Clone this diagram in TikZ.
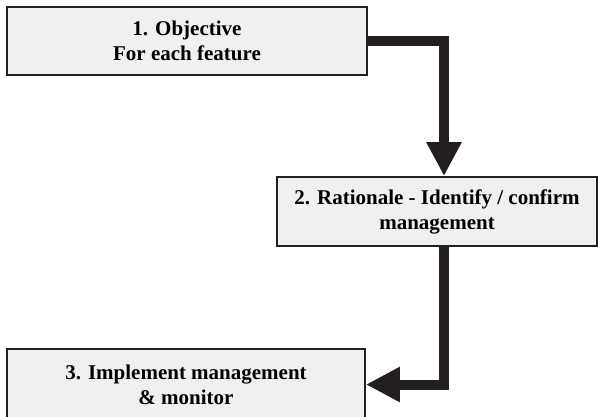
\documentclass[tikz,border=0pt]{standalone}
\usepackage{fontspec}
\setmainfont{Liberation Serif}
\usetikzlibrary{arrows.meta}
\definecolor{boxfill}{RGB}{239,240,242}
\definecolor{darkline}{RGB}{35,31,32}

\begin{document}
\begin{tikzpicture}[x=1pt, y=-1pt,
  stepbox/.style={draw=darkline, line width=1.8pt, fill=boxfill, inner sep=0pt, align=center, font=\fontsize{21}{25}\selectfont\bfseries},
  flow/.style={draw=darkline, line width=10pt, line join=miter, -{Triangle[length=34pt, width=33pt]}}]

\useasboundingbox (0,0) rectangle (599,416);

% Boxes
\node[stepbox, minimum width=360pt, minimum height=68pt] (obj) at (187,41) {1. Objective\\For each feature};
\node[stepbox, minimum width=320pt, minimum height=69pt] (rat) at (437,211.5) {2. Rationale - Identify / confirm\\management};
\node[stepbox, minimum width=358pt, minimum height=71pt] (impl) at (186,384.5) {3. Implement management\\\& monitor};

% Arrows
\coordinate (trunk) at (444,0);
\draw[flow] (obj.east) -| (rat.north -| trunk);
\draw[flow] (rat.south -| trunk) |- (impl.east);

\end{tikzpicture}
\end{document}
